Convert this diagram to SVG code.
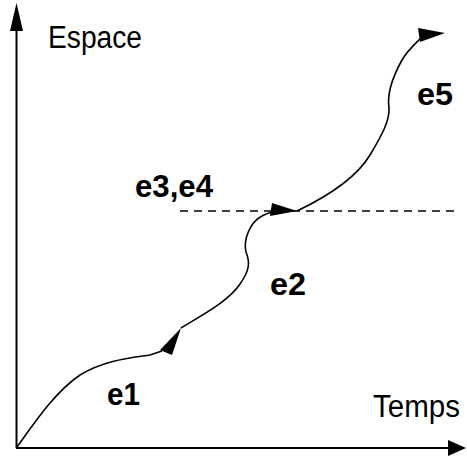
<svg xmlns="http://www.w3.org/2000/svg" width="467" height="457" viewBox="0 0 467 457">
<style>
.ax{stroke:#000;stroke-width:2;fill:none}
.cv{stroke:#000;stroke-width:1.6;fill:none}
.ah{fill:#000;stroke:none}
.lbl{font-family:"Liberation Sans",Arial,sans-serif;font-size:31px;fill:#000}
.b{font-family:"Liberation Sans",Arial,sans-serif;font-size:32px;font-weight:bold;fill:#000}
</style>
<rect width="467" height="457" fill="#fff"/>
<g id="axes">
<line class="ax" x1="16.5" y1="448" x2="16.5" y2="25"/>
<polygon class="ah" points="16.5,3 10,31 23,31"/>
<line class="ax" x1="16" y1="448" x2="452" y2="448"/>
<polygon class="ah" points="466,448 448,440 448,456"/>
<text class="lbl" x="48" y="48" textLength="94" lengthAdjust="spacingAndGlyphs">Espace</text>
<text class="lbl" x="373" y="417" textLength="87" lengthAdjust="spacingAndGlyphs">Temps</text>
</g>
<g id="connectors">
<line x1="180" y1="211" x2="460" y2="211" stroke="#000" stroke-width="1.4" stroke-dasharray="8,6"/>
<path class="cv" d="M17,447 C35,422 55,392 80,375 C105,360 130,358 150,355 L162,351"/>
<polygon class="ah" points="181,328 160,350 172,355"/>
<path class="cv" d="M181,328 C200,316 228,302 240,284 C250,270 250,262 246,252 C243,240 250,222 262,216 C268,212 275,211 285,211"/>
<polygon class="ah" points="272,203 297,211 270,216"/>
<path class="cv" d="M297,211 C320,200 355,180 370,155 C382,135 390,120 389,108 C387,95 392,78 402,60 C408,50 414,45 421,38"/>
<polygon class="ah" points="418,28 445,33 420,42"/>
</g>
<g id="e1"><text class="b" x="107" y="405" textLength="33" lengthAdjust="spacingAndGlyphs">e1</text></g>
<g id="e2"><text class="b" x="270" y="295" textLength="36" lengthAdjust="spacingAndGlyphs">e2</text></g>
<g id="e34"><text class="b" x="135" y="197" textLength="78" lengthAdjust="spacingAndGlyphs">e3,e4</text></g>
<g id="e5"><text class="b" x="417" y="105" textLength="36" lengthAdjust="spacingAndGlyphs">e5</text></g>
</svg>
